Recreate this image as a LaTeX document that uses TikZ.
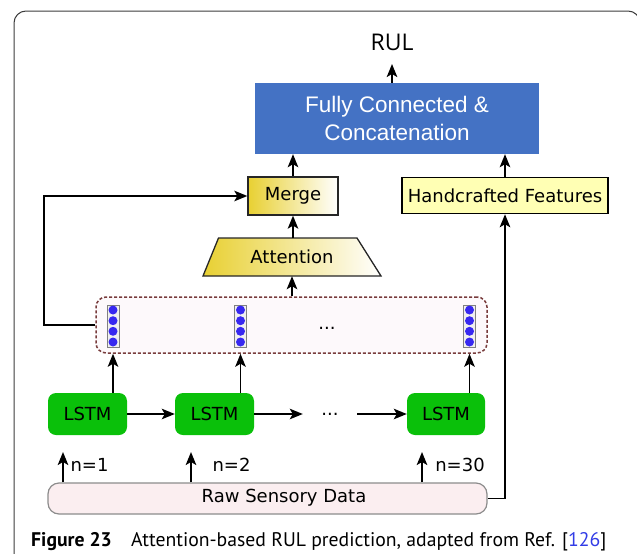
\documentclass[tikz,border=0pt]{standalone}
\usepackage{fontspec}
\setmainfont{DejaVu Sans}
\newfontfamily\fcfont{Liberation Sans}
\newfontfamily\rulfont{Open Sans}
\newfontfamily\capfont{PT Sans}
\usetikzlibrary{arrows.meta,calc}

\definecolor{fcblue}{RGB}{68,114,196}
\definecolor{mgold}{RGB}{232,208,50}
\definecolor{hfyellow}{RGB}{255,255,180}
\definecolor{seqborder}{RGB}{120,60,60}
\definecolor{seqfill}{RGB}{253,249,251}
\definecolor{lstmgreen}{RGB}{10,192,10}
\definecolor{rawfill}{RGB}{251,238,240}
\definecolor{rawborder}{RGB}{140,140,140}
\definecolor{cellblue}{RGB}{55,40,240}
\definecolor{refblue}{RGB}{50,60,230}
\definecolor{framegray}{RGB}{60,60,60}

\tikzset{
  arr/.style={line width=1.8pt, -{Stealth[length=13pt,width=10.5pt,inset=3pt]}},
  lbl/.style={font=\fontsize{18}{21}\selectfont, inner sep=0pt},
  goldbox/.style={lbl, left color=mgold, right color=white, draw=black!85, line width=1.3pt},
  lstmbox/.style={lbl, fill=lstmgreen, rounded corners=8pt, minimum width=79pt, minimum height=42pt},
  cellcol/.style={fill=gray!12, draw=gray, line width=0.8pt, minimum width=12pt, minimum height=42pt, inner sep=0pt},
  dotsnode/.style={lbl, text height=0pt, text depth=0pt},
  captxt/.style={anchor=base west, inner sep=0pt, font=\capfont\fontsize{19.7}{22}\selectfont},
}

\begin{document}
\begin{tikzpicture}[x=1pt,y=-1pt]
\useasboundingbox (0,0) rectangle (637,554);
\clip (0,0) rectangle (637,554);

% outer frame
\draw[framegray, line width=1pt, rounded corners=12pt] (14,600) -- (14,11) -- (640,11) -- (640,600);

% output
\node[inner sep=0pt, font=\rulfont\fontsize{23}{26}\selectfont] (rul) at (392,42) {RUL};
\coordinate (rultip) at (392,64);

% fully connected block
\node[fill=fcblue, minimum width=284pt, minimum height=71pt, inner sep=0pt, align=center,
      text=white, font=\fcfont\fontsize{22.5}{28}\selectfont] (fc) at (397,118.5)
      {Fully Connected \&\\Concatenation};

% merge and handcrafted features
\node[goldbox, minimum width=90pt, minimum height=38pt] (merge) at (293,196) {Merge};
\node[lbl, fill=hfyellow, draw=black, line width=1.5pt, minimum width=206pt, minimum height=36pt]
      (hf) at (505,195.5) {Handcrafted Features};

% attention (trapezoid)
\shadedraw[left color=mgold, right color=white, draw=black!85, line width=1.3pt]
  (203,276) -- (218.5,238) -- (357,238) -- (381,276) -- cycle;
\node[lbl, minimum width=178pt, minimum height=38pt] (attn) at (292,257) {Attention};

% sequence of hidden states
\node[draw=seqborder, fill=seqfill, line width=1.5pt, dash pattern=on 3pt off 2pt,
      rounded corners=10pt, minimum width=391pt, minimum height=56pt, inner sep=0pt]
      (seq) at (291.5,325) {};
\foreach \n/\x in {c1/113, c2/240.5, c3/469.5}{
  \node[cellcol] (\n) at (\x,326) {};
  \foreach \dy in {-16,-5.3,5.3,16}
    \fill[cellblue] ($(\n)+(0,\dy)$) circle (4.5pt);
}
\node[dotsnode] (sdots) at (327,327) {\raisebox{-2.5pt}{...}};

% LSTM chain
\node[lstmbox] (l1) at (87.5,414) {LSTM};
\node[lstmbox] (l2) at (214.5,414) {LSTM};
\node[lstmbox, minimum width=78pt] (l3) at (446,414) {LSTM};
\node[dotsnode, minimum width=54pt] (hdots) at (330,414) {\raisebox{-1.5pt}{...}};

% raw data
\node[fill=rawfill, draw=rawborder, line width=1.2pt, rounded corners=11pt,
      minimum width=439pt, minimum height=31pt, inner sep=0pt] (raw) at (267.5,498.5) {};
\node[lbl] (rawtxt) at (284,498) {Raw Sensory Data};

% time step inputs
\coordinate (t1) at (63,452);
\coordinate (t2) at (191,452);
\coordinate (t3) at (422,452);
\node[lbl] (n1) at (89.5,465) {n=1};
\node[lbl] (n2) at (231.5,465) {n=2};
\node[lbl] (n3) at (460,465) {n=30};

% connectors
\draw[arr] (fc.north -| rultip) -- (rultip);
\draw[arr] (merge.north) -- (merge.north |- fc.south);
\draw[arr] (hf.north) -- (hf.north |- fc.south);
\draw[arr] (attn.north -| merge) -- (merge.south);
\draw[arr] (seq.north -| attn) -- (attn.south);
\coordinate (fb) at (44,325);
\draw[arr] (seq.west) -- (fb) |- (merge.west);
\draw[arr] (l1.north -| c1) -- (c1 |- seq.south);
\draw[arr] (l2.north -| c2) -- (c2 |- seq.south);
\draw[arr] (l3.north -| c3) -- (c3 |- seq.south);
\draw[arr] (l1.east) -- (l2.west);
\draw[arr] (l2.east) -- (hdots.west);
\draw[arr] (hdots.east) -- (l3.west);
\draw[arr] (t1 |- raw.north) -- (t1);
\draw[arr] (t2 |- raw.north) -- (t2);
\draw[arr] (t3 |- raw.north) -- (t3);
\draw[arr] (raw.east) -| (hf.south);

% caption
\node[captxt] (capa) at (31,546) {\textbf{Figure 23}};
\node[captxt] (capb) at (131,546)
  {Attention-based RUL prediction, adapted from Ref. [\textcolor{refblue}{126}]};
\end{tikzpicture}
\end{document}
